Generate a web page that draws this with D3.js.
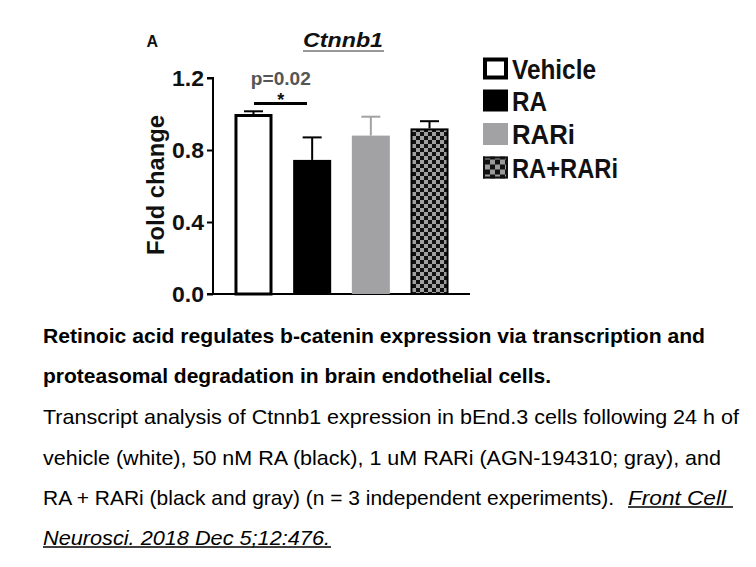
<!DOCTYPE html>
<html>
<head>
<meta charset="utf-8">
<script src="https://cdn.jsdelivr.net/npm/d3@7"></script>
<style>
  html, body { margin: 0; padding: 0; background: #fff; }
  svg { display: block; font-family: Arial, "Liberation Sans", sans-serif; }
</style>
</head>
<body>
<svg id="chart" width="756" height="567"></svg>
<script>
// ---- data ----
const categories = ["Vehicle", "RA", "RARi", "RA+RARi"];
const values = [1.0, 0.745, 0.88, 0.92];
const errors = [0.015, 0.125, 0.105, 0.04];
const yTicks = [0.0, 0.4, 0.8, 1.2];
const yTickLabels = ["0.0", "0.4", "0.8", "1.2"];
const chartTitle = "Ctnnb1";
const yLabel = "Fold change";
const pLabel = "p=0.02";
const captionLines = [
  { text: "Retinoic acid regulates b-catenin expression via transcription and", bold: true, len: 662 },
  { text: "proteasomal degradation in brain endothelial cells.", bold: true, len: 508 },
  { text: "Transcript analysis of Ctnnb1 expression in bEnd.3 cells following 24 h of", bold: false, len: 696 },
  { text: "vehicle (white), 50 nM RA (black), 1 uM RARi (AGN-194310; gray), and", bold: false, len: 678 },
  { text: "RA + RARi (black and gray) (n = 3 independent experiments).", bold: false, len: 571 }
];
const citeParts = [
  { text: "Front Cell", len: 98 },
  { text: "Neurosci. 2018 Dec 5;12:476.", len: 287 }
];

// ---- styles ----
const fills = { "Vehicle": "#ffffff", "RA": "#000000", "RARi": "#a2a2a5", "RA+RARi": "url(#checker)" };
const strokes = { "Vehicle": "#000", "RA": "#000", "RARi": "#a2a2a5", "RA+RARi": "#000" };
const errColors = { "Vehicle": "#000", "RA": "#000", "RARi": "#a2a2a5", "RA+RARi": "#000" };

const svg = d3.select("#chart");
const defs = svg.append("defs");
const pat = defs.append("pattern").attr("id", "checker").attr("patternUnits", "userSpaceOnUse")
  .attr("width", 8).attr("height", 8).attr("x", 0).attr("y", 0);
pat.append("rect").attr("width", 8).attr("height", 8).attr("fill", "#a0a0a0");
pat.append("rect").attr("width", 4).attr("height", 4).attr("fill", "#111");
pat.append("rect").attr("x", 4).attr("y", 4).attr("width", 4).attr("height", 4).attr("fill", "#111");

const x = d3.scaleBand().domain(categories).range([213, 470]).paddingInner(0.352).paddingOuter(0.366);
const y = d3.scaleLinear().domain([0, 1.2]).range([294, 78]);

// axes
const yAxis = svg.append("g").attr("transform", "translate(213,0)")
  .call(d3.axisLeft(y).tickValues(yTicks).tickFormat((d, i) => yTickLabels[i]).tickSize(6).tickPadding(3));
yAxis.select(".domain").attr("stroke", "#000").attr("stroke-width", 2).attr("d", `M-6,${y(1.2)}H0V${y(0)}`);
yAxis.selectAll(".tick line").attr("stroke", "#000").attr("stroke-width", 2);
yAxis.selectAll(".tick text").attr("font-size", 22).attr("font-weight", "bold").attr("fill", "#111")
  .attr("font-family", "Arial, 'Liberation Sans', sans-serif")
  .attr("textLength", 32).attr("lengthAdjust", "spacingAndGlyphs");

const xAxis = svg.append("g").attr("transform", `translate(0,${y(0)})`)
  .call(d3.axisBottom(x).tickSize(0).tickFormat(""));
xAxis.select(".domain").attr("stroke", "#000").attr("stroke-width", 2).attr("d", "M207,0H470");

// error bars (behind bars)
const eg = svg.append("g");
categories.forEach((c, i) => {
  const cx = x(c) + x.bandwidth() / 2;
  eg.append("line").attr("x1", cx).attr("x2", cx).attr("y1", y(values[i])).attr("y2", y(values[i] + errors[i]))
    .attr("stroke", errColors[c]).attr("stroke-width", 2);
  eg.append("line").attr("x1", cx - 9.5).attr("x2", cx + 9.5).attr("y1", y(values[i] + errors[i])).attr("y2", y(values[i] + errors[i]))
    .attr("stroke", errColors[c]).attr("stroke-width", 2);
});

// bars
svg.append("g").selectAll("rect").data(categories).join("rect")
  .attr("x", (c) => x(c) + (c === "Vehicle" ? 1.5 : c === "RA+RARi" ? 1 : 0))
  .attr("width", (c) => x.bandwidth() - (c === "Vehicle" ? 3 : c === "RA+RARi" ? 2 : 0))
  .attr("y", (c, i) => y(values[i]) + (c === "Vehicle" ? 1.5 : c === "RA+RARi" ? 1 : 0))
  .attr("height", (c, i) => y(0) - y(values[i]) - (c === "Vehicle" ? 1.5 : c === "RA+RARi" ? 1 : 0))
  .attr("fill", (c) => fills[c])
  .attr("stroke", (c) => strokes[c])
  .attr("stroke-width", (c) => c === "Vehicle" ? 3 : c === "RA+RARi" ? 2 : 0);

// significance
const x0 = x("Vehicle") + x.bandwidth() / 2, x1 = x("RA") + x.bandwidth() / 2;
svg.append("line").attr("x1", 254).attr("x2", 307).attr("y1", 103.5).attr("y2", 103.5)
  .attr("stroke", "#000").attr("stroke-width", 3);
svg.append("text").attr("x", (x0 + x1) / 2 - 2).attr("y", 106).attr("text-anchor", "middle")
  .attr("font-size", 18).attr("font-weight", "bold").attr("fill", "#111").text("*");
svg.append("text").attr("x", (x0 + x1) / 2 - 2).attr("y", 85).attr("text-anchor", "middle")
  .attr("font-size", 18).attr("font-weight", "bold").attr("fill", "#555")
  .attr("textLength", 60).attr("lengthAdjust", "spacingAndGlyphs").text(pLabel);

// title
svg.append("text").attr("x", 303).attr("y", 47).attr("font-size", 20).attr("font-weight", "bold")
  .attr("font-style", "italic").attr("fill", "#111").attr("textLength", 80).attr("lengthAdjust", "spacingAndGlyphs").text(chartTitle);
svg.append("line").attr("x1", 303).attr("x2", 384).attr("y1", 51).attr("y2", 51).attr("stroke", "#333").attr("stroke-width", 1.2);

// panel letter
svg.append("text").attr("x", 146.5).attr("y", 46.5).attr("font-size", 16).attr("font-weight", "bold").attr("fill", "#111").text("A");

// y label
svg.append("text").attr("transform", "translate(164,185) rotate(-90)").attr("text-anchor", "middle")
  .attr("font-size", 24).attr("font-weight", "bold").attr("fill", "#111")
  .attr("textLength", 140).attr("lengthAdjust", "spacingAndGlyphs").text(yLabel);

// legend
const legendY = [68.5, 100.5, 134, 167.5];
const legendLen = [84, 35, 63, 106];
const lg = svg.append("g");
categories.forEach((c, i) => {
  const cy = legendY[i];
  const inset = c === "Vehicle" ? 2 : 0;
  lg.append("rect").attr("x", 483 + inset).attr("y", cy - 11 + inset)
    .attr("width", 25 - 2 * inset).attr("height", 22 - 2 * inset)
    .attr("fill", c === "RA+RARi" ? "url(#legchecker)" : fills[c])
    .attr("stroke", c === "Vehicle" ? "#000" : "none").attr("stroke-width", 4);
  lg.append("text").attr("x", 512).attr("y", cy + 10).attr("font-size", 27).attr("font-weight", "bold")
    .attr("fill", "#111").attr("textLength", legendLen[i]).attr("lengthAdjust", "spacingAndGlyphs").text(c);
});
const lpat = defs.append("pattern").attr("id", "legchecker").attr("patternUnits", "userSpaceOnUse")
  .attr("width", 10).attr("height", 10).attr("x", 485).attr("y", 159.5);
lpat.append("rect").attr("width", 10).attr("height", 10).attr("fill", "#9a9a9a");
lpat.append("rect").attr("width", 5).attr("height", 5).attr("fill", "#111");
lpat.append("rect").attr("x", 5).attr("y", 5).attr("width", 5).attr("height", 5).attr("fill", "#111");
lg.append("rect").attr("x", 484).attr("y", 157.5).attr("width", 23).attr("height", 20)
  .attr("fill", "none").attr("stroke", "#111").attr("stroke-width", 2);

// caption
const baselines = [343, 383, 424, 464.5, 504.5, 544.5];
const cap = svg.append("g").attr("fill", "#000");
captionLines.forEach((l, i) => {
  cap.append("text").attr("x", 43).attr("y", baselines[i]).attr("font-size", 21)
    .attr("font-weight", l.bold ? "bold" : "normal")
    .attr("textLength", l.len).attr("lengthAdjust", "spacingAndGlyphs").text(l.text);
});
cap.append("text").attr("x", 628).attr("y", baselines[4]).attr("font-size", 21).attr("font-style", "italic")
  .attr("textLength", citeParts[0].len).attr("lengthAdjust", "spacingAndGlyphs").text(citeParts[0].text);
cap.append("line").attr("x1", 628).attr("x2", 733).attr("y1", baselines[4] + 2.5).attr("y2", baselines[4] + 2.5)
  .attr("stroke", "#000").attr("stroke-width", 1.3);
cap.append("text").attr("x", 43).attr("y", baselines[5]).attr("font-size", 21).attr("font-style", "italic")
  .attr("textLength", citeParts[1].len).attr("lengthAdjust", "spacingAndGlyphs").text(citeParts[1].text);
cap.append("line").attr("x1", 43).attr("x2", 331).attr("y1", baselines[5] + 2.5).attr("y2", baselines[5] + 2.5)
  .attr("stroke", "#000").attr("stroke-width", 1.3);
</script>
</body>
</html>
